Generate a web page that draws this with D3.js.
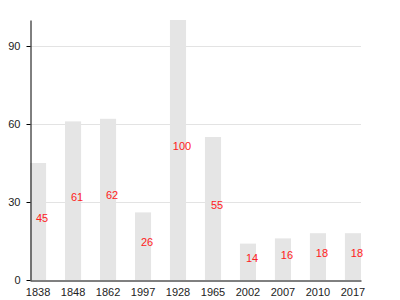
<!DOCTYPE html>
<html>
<head>
<meta charset="utf-8">
<script src="https://cdn.jsdelivr.net/npm/d3@7"></script>
<style>
  body { margin: 0; background: #fff; }
  text { font-family: "Liberation Sans", Arial, sans-serif; }
</style>
</head>
<body>
<svg id="chart" width="400" height="300"></svg>
<script>
// データ
const categories = ["1838", "1848", "1862", "1997", "1928", "1965", "2002", "2007", "2010", "2017"];
const values = [45, 61, 62, 26, 100, 55, 14, 16, 18, 18];
const yTicks = [0, 30, 60, 90];

const margin = { top: 20, right: 39, bottom: 20, left: 30 };
const width = 400, height = 300;

const svg = d3.select("#chart");

const x = d3.scaleBand()
    .domain(categories)
    .range([margin.left, width - margin.right])
    .paddingInner(0.54)
    .paddingOuter(0);

const y = d3.scaleLinear()
    .domain([0, 100])
    .range([height - margin.bottom, margin.top]);

// グリッド線
svg.append("g")
    .selectAll("line")
    .data(yTicks.filter(t => t > 0))
    .join("line")
    .attr("x1", margin.left)
    .attr("x2", width - margin.right)
    .attr("y1", d => Math.round(y(d)) + 0.5)
    .attr("y2", d => Math.round(y(d)) + 0.5)
    .attr("stroke", "#e3e3e3")
    .attr("stroke-width", 1);

// 棒
const data = categories.map((c, i) => ({ c, v: values[i] }));
svg.append("g")
    .selectAll("rect")
    .data(data)
    .join("rect")
    .attr("x", d => x(d.c))
    .attr("width", x.bandwidth())
    .attr("y", d => y(d.v))
    .attr("height", d => y(0) - y(d.v))
    .attr("fill", "#e5e5e5");

// 値ラベル
svg.append("g")
    .selectAll("text")
    .data(data)
    .join("text")
    .attr("x", d => x(d.c) + x.bandwidth() * 0.75)
    .attr("y", d => y(d.v / 2))
    .attr("text-anchor", "middle")
    .attr("font-size", 11)
    .attr("fill", "#ff2020")
    .text(d => d.v);

// Y軸
const yAxis = svg.append("g")
    .attr("transform", `translate(${margin.left + 0.5},0)`)
    .call(d3.axisLeft(y).tickValues(yTicks).tickSize(4).tickPadding(6).tickSizeOuter(0));
yAxis.select(".domain").attr("stroke", "#000");
yAxis.selectAll("text").attr("font-size", 11).attr("fill", "#222").attr("font-family", null);

// X軸
const xAxis = svg.append("g")
    .attr("transform", `translate(0,${height - margin.bottom + 0.5})`)
    .call(d3.axisBottom(x).tickSize(0).tickPadding(8));
xAxis.select(".domain").attr("stroke", "#000");
xAxis.selectAll("text").attr("font-size", 11).attr("fill", "#222").attr("font-family", null);
</script>
</body>
</html>
